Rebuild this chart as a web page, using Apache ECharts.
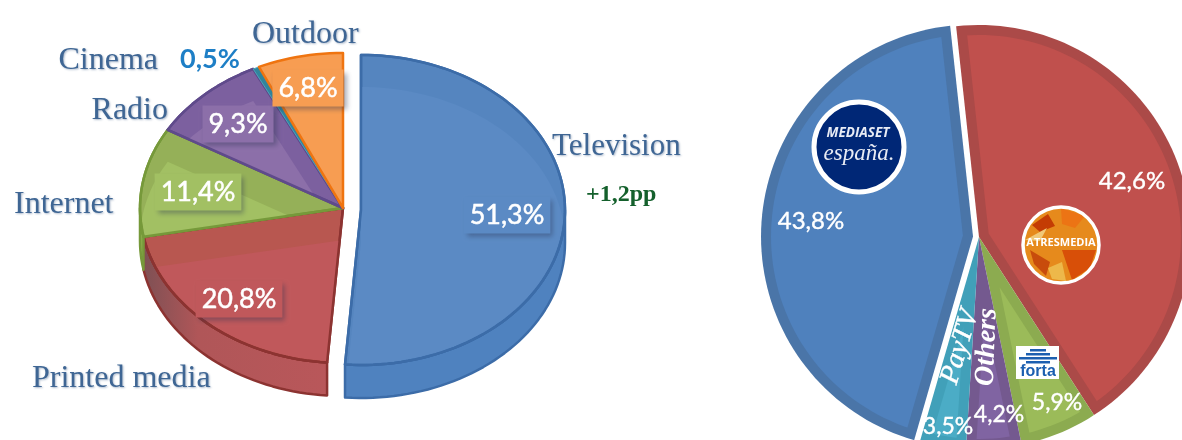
<!DOCTYPE html>
<html><head><meta charset="utf-8">
<style>html,body{margin:0;padding:0;background:#fff}#c{width:1182px;height:440px}</style>
<script src="https://cdn.jsdelivr.net/npm/echarts@6/dist/echarts.min.js"></script>
</head><body><div id="c"></div>
<script>
// ---- data ----
const adCategories = ['Television','Printed media','Internet','Radio','Cinema','Outdoor'];
const adValues = [51.3,20.8,11.4,9.3,0.5,6.8];
const adLabels = ['51,3%','20,8%','11,4%','9,3%','0,5%','6,8%'];
const adNote = '+1,2pp';
const groupCategories = ['Atresmedia','Forta','Others','PayTV','Mediaset'];
const groupValues = [42.6,5.9,4.2,3.5,43.8];
const groupLabels = ['42,6%','5,9%','4,2%','3,5%','43,8%'];

// ---- styles ----
const D2R = Math.PI/180;
const adStyle = [
 {face:'#5b8ac4',band:'#5585bf',line:'#3c6ca8',wall:'#4f82bf'},
 {face:'#c0585b',band:'#b85750',line:'#8c3331',wall:'#b9575a'},
 {face:'#a2c063',band:'#95b058',line:'#76993a',wall:'#8fb04e'},
 {face:'#8c6fa9',band:'#7c609f',line:'#5f4a8b',wall:'#7c609f'},
 {face:'#31859c',band:'#31859c',line:'#4aa3bb',wall:'#31859c'},
 {face:'#f79d52',band:'#f79d52',line:'#ef7410',wall:'#f79d52'}];
const adText = [
 {x:507,y:215,bg:'#5b8ac4',w:true},{x:239,y:299,bg:'#c0585b',w:true},{x:198,y:192,bg:'#a2c063',w:true},
 {x:238,y:124,bg:'#8c6fa9',w:true},{x:210,y:59,bg:null,w:false},{x:308,y:88,bg:'#f79d52',w:true}];
const adName = [{x:552,y:147,a:'left',s:31},{x:32,y:379,a:'left',s:32},{x:14,y:205,a:'left',s:32},{x:168,y:111,a:'right',s:32},{x:158,y:61,a:'right',s:32},{x:252,y:35,a:'left',s:32}];
const groupStyle = [
 {face:'#c0504d',rim:'#ab4a48'},{face:'#9bbb59',rim:'#8cab50'},{face:'#8064a2',rim:'#74598f'},{face:'#4bacc6',rim:'#41a0b9'},{face:'#4f81bd',rim:'#4a75a8'}];
const groupText = [{x:1132,y:181},{x:1057,y:403},{x:999,y:415},{x:948,y:427},{x:811,y:221}];
const LEFT = {cx:343,cy:208,rx:203,ry:155,depth:33};
const RIGHT = {cx:979,cy:237,r:212,rim:10,gap:6,start:-6.2};
const NAME_COLOR = '#3f6694';
const total = a => a.reduce((s,v)=>s+v,0);

function arcPts(cx,cy,rx,ry,a0,a1){
  const pts=[]; const n=Math.max(2,Math.ceil(Math.abs(a1-a0)/2));
  for(let i=0;i<=n;i++){const a=(a0+(a1-a0)*i/n)*D2R; pts.push([cx+rx*Math.sin(a),cy-ry*Math.cos(a)]);}
  return pts;
}
function slice(cx,cy,rx,ry,a0,a1){return [[cx,cy]].concat(arcPts(cx,cy,rx,ry,a0,a1));}
function angles(values,start){const t=total(values);let c=0;return values.map(v=>{const a=[start+c/t*360,start+(c+v)/t*360];c+=v;return a;});}

function renderLeft(params,api){
  const i=params.dataIndex, ang=angles(adValues,0)[i], s=adStyle[i], L=LEFT;
  const off = i===0 ? 18 : 0, cx=L.cx+off, cy=L.cy+(i===0?2:0), rx=i===0?204:L.rx, ry=L.ry;
  const kids=[];
  const w0=Math.max(ang[0],90), w1=Math.min(ang[1],270);
  if(w1>w0){
    const top=arcPts(cx,cy,rx,ry,w0,w1);
    const bot=arcPts(cx,cy+L.depth,rx,ry,w0,w1).reverse();
    kids.push({type:'polygon',shape:{points:top.concat(bot)},
      style:{fill:i===1?{type:'linear',x:0,y:0,x2:1,y2:0,colorStops:[{offset:0,color:'#7d5054'},{offset:.3,color:'#b05658'},{offset:1,color:s.wall}]}:s.wall,
      stroke:s.line,lineWidth:2.5,lineJoin:'round'}});
  }
  const pts=slice(cx,cy,rx,ry,ang[0],ang[1]);
  kids.push({type:'polygon',shape:{points:pts},style:{fill:s.band,stroke:s.line,lineWidth:i===4?1:2.5,lineJoin:'round'}});
  if(s.face!==s.band){
    kids.push({type:'polygon',shape:{points:slice(cx,cy+32,rx,ry,ang[0],ang[1])},
      clipPath:{type:'polygon',shape:{points:slice(cx,cy,rx-1.5,ry-1.5,ang[0],ang[1])}},
      style:{fill:s.face}});
    kids.push({type:'polygon',shape:{points:pts},style:{fill:'none',stroke:s.line,lineWidth:2.5,lineJoin:'round'}});
  }
  return {type:'group',children:kids};
}
function renderLeftText(params,api){
  const i=params.dataIndex,t=adText[i],n=adName[i],kids=[];
  kids.push({type:'text',style:{text:adCategories[i],x:n.x,y:n.y,align:n.a,verticalAlign:'middle',
    font:n.s+'px "Liberation Serif"',fill:NAME_COLOR,textShadowColor:'rgba(70,100,140,.45)',textShadowBlur:2,textShadowOffsetX:1,textShadowOffsetY:1}});
  if(t.w){
    kids.push({type:'text',style:{text:adLabels[i],x:t.x,y:t.y,align:'center',verticalAlign:'middle',
      font:'27px Lato',fill:'#fff',stroke:'#fff',lineWidth:.5,backgroundColor:t.bg,padding:[5,6,5,6],
      shadowColor:'rgba(40,50,80,.4)',shadowBlur:5,shadowOffsetX:3,shadowOffsetY:3}});
  }else{
    kids.push({type:'text',style:{text:adLabels[i],x:t.x,y:t.y,align:'center',verticalAlign:'middle',
      font:'bold 27px Lato',fill:'#1e7fc6'}});
  }
  return {type:'group',children:kids};
}
function renderRight(params,api){
  const i=params.dataIndex, ang=angles(groupValues,RIGHT.start)[i], s=groupStyle[i], R=RIGHT;
  const mid=(ang[0]+ang[1])/2*D2R, half=(ang[1]-ang[0])/2*D2R;
  const off=i===4?R.gap:0;
  const cx=R.cx+off*Math.sin(mid), cy=R.cy-off*Math.cos(mid);
  const d=R.rim/Math.sin(Math.min(half,Math.PI/2));
  const ix=cx+d*Math.sin(mid), iy=cy-d*Math.cos(mid);
  const kids=[{type:'polygon',shape:{points:slice(cx,cy,R.r,R.r,ang[0],ang[1])},style:{fill:s.rim}}];
  kids.push({type:'polygon',shape:{points:slice(ix,iy,R.r*1.2,R.r*1.2,ang[0],ang[1])},
    clipPath:{type:'polygon',shape:{points:slice(cx,cy,R.r-R.rim,R.r-R.rim,ang[0],ang[1])}},style:{fill:s.face}});
  const t=groupText[i];
  kids.push({type:'text',z2:5,style:{text:groupLabels[i],x:t.x,y:t.y,align:'center',verticalAlign:'middle',
    font:(i===0||i===4?24:23)+'px Lato',fill:'#fff',stroke:'#fff',lineWidth:.4}});
  return {type:'group',children:kids};
}
const logos=[
  {type:'circle',shape:{cx:859,cy:147,r:45},style:{fill:'#002776',stroke:'#fff',lineWidth:5}},
  {type:'text',style:{text:'MEDIASET',x:858,y:133,align:'center',verticalAlign:'middle',font:'italic bold 13.5px "Open Sans"',fill:'#e8ecf5'}},
  {type:'text',style:{text:'españa.',x:859,y:154,align:'center',verticalAlign:'middle',font:'italic 23px "Liberation Serif"',fill:'#e8ecf5'}},
  {type:'circle',shape:{cx:1061,cy:245,r:38},style:{fill:'#e68a1c'}},
  {type:'polygon',shape:{points:[[1032,225],[1048,214],[1055,226],[1040,232]]},style:{fill:'#c43c04'}},
  {type:'polygon',shape:{points:[[1025,240],[1047,228],[1040,241]]},style:{fill:'#f0c878'}},
  {type:'polygon',shape:{points:[[1061,208],[1085,216],[1075,228],[1062,224]]},style:{fill:'#ec7414'}},
  {type:'polygon',shape:{points:[[1062,250],[1096,250],[1090,268],[1072,280]]},style:{fill:'#d84f08'}},
  {type:'polygon',shape:{points:[[1030,250],[1050,262],[1046,276],[1034,264]]},style:{fill:'#c84c0c'}},
  {type:'polygon',shape:{points:[[1048,268],[1062,262],[1066,281],[1052,279]]},style:{fill:'#edb84a'}},
  {type:'text',style:{text:'ATRESMEDIA',x:1061,y:243,align:'center',verticalAlign:'middle',font:'bold 11px "Open Sans"',fill:'#fff'}},
  {type:'circle',shape:{cx:1061,cy:245,r:38},style:{fill:'none',stroke:'#fff',lineWidth:3.5}},
  {type:'rect',shape:{x:1016,y:346,width:43,height:33},style:{fill:'#fff'}},
  {type:'rect',shape:{x:1030,y:349,width:16,height:2.5},style:{fill:'#1c5fb0'}},
  {type:'rect',shape:{x:1026,y:353,width:24,height:2.5},style:{fill:'#1c5fb0'}},
  {type:'rect',shape:{x:1019,y:357,width:38,height:2.5},style:{fill:'#1c5fb0'}},
  {type:'rect',shape:{x:1026,y:361,width:24,height:2.5},style:{fill:'#1c5fb0'}},
  {type:'text',style:{text:'forta',x:1038,y:372,align:'center',verticalAlign:'middle',font:'bold 16px "Liberation Sans"',fill:'#1c5fb0'}},
  {type:'text',style:{text:groupCategories[3],x:0,y:0,align:'center',verticalAlign:'middle',font:'italic 28px "Liberation Serif"',fill:'#fff',stroke:'#fff',lineWidth:.4},x:960,y:347,rotation:73.5*D2R},
  {type:'text',style:{text:groupCategories[2],x:0,y:0,align:'center',verticalAlign:'middle',font:'italic bold 28px "Liberation Serif"',fill:'#fff'},x:987,y:347,rotation:88*D2R},
  {type:'text',style:{text:adNote,x:586,y:195,align:'left',verticalAlign:'middle',font:'bold 24px "Liberation Serif"',fill:'#14602c'}}
].map(e=>Object.assign({z:50},e));
const chart=echarts.init(document.getElementById('c'),null,{renderer:'canvas'});
chart.setOption({
  animation:false,
  graphic:{elements:logos},
  series:[
    {type:'custom',coordinateSystem:'none',silent:true,z:2,renderItem:renderLeft,data:adValues.map((v,i)=>({name:adCategories[i],value:[v]}))},
    {type:'custom',coordinateSystem:'none',silent:true,z:3,renderItem:renderLeftText,data:adValues.map((v,i)=>({name:adCategories[i],value:[v]}))},
    {type:'custom',coordinateSystem:'none',silent:true,z:4,renderItem:renderRight,data:groupValues.map((v,i)=>({name:groupCategories[i],value:[v]}))}
  ]
});
</script>
</body></html>
